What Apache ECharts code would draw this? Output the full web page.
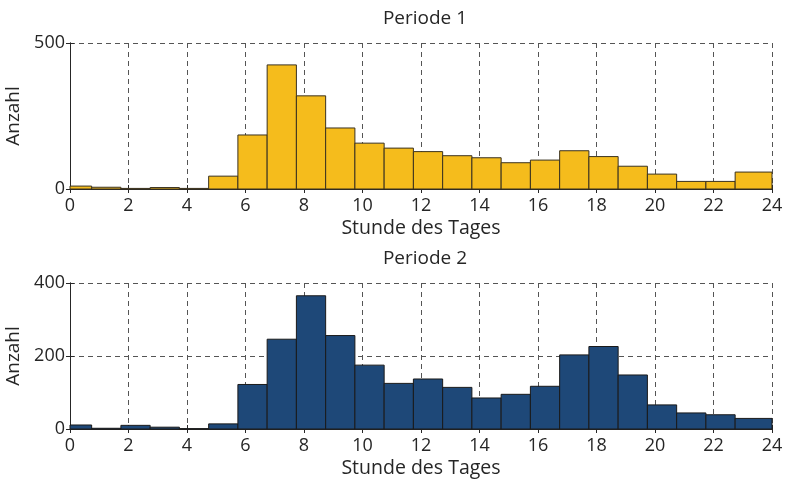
<!DOCTYPE html>
<html>
<head>
<meta charset="utf-8">
<script src="https://cdn.jsdelivr.net/npm/echarts@6/dist/echarts.min.js"></script>
<style>
  html, body { margin: 0; padding: 0; background: #fff; }
  #chart { width: 789px; height: 481px; }
</style>
</head>
<body>
<div id="chart"></div>
<script>
// Hourly histogram bins (hours of the day); first and last bins are cut by the axis range
const binEdges = [0, 0.74, 1.74, 2.74, 3.74, 4.74, 5.74, 6.74, 7.74, 8.74, 9.74, 10.74, 11.74,
                  12.74, 13.74, 14.74, 15.74, 16.74, 17.74, 18.74, 19.74, 20.74, 21.74, 22.74, 24];

// Counts per bin
const countsPeriod1 = [10, 6, 2, 5, 2, 44, 185, 425, 319, 209, 157, 140, 128, 114, 107, 90, 99, 131, 111, 78, 51, 26, 26, 58];
const countsPeriod2 = [11, 2, 10, 5, 1, 14, 122, 246, 365, 256, 175, 125, 137, 114, 85, 95, 117, 203, 226, 148, 66, 44, 39, 29];

const xTicks = [0, 24, 2];
const titles = ['Periode 1', 'Periode 2'];
const xName = 'Stunde des Tages';
const yName = 'Anzahl';

const FONT = '"Open Sans", "Noto Sans", sans-serif';
const TXT = '#262626';

function binData(counts) {
  return counts.map((c, i) => [binEdges[i], binEdges[i + 1], c]);
}

function renderBin(params, api) {
  const p0 = api.coord([api.value(0), api.value(2)]);
  const p1 = api.coord([api.value(1), 0]);
  return {
    type: 'rect',
    shape: { x: p0[0], y: p0[1], width: p1[0] - p0[0], height: p1[1] - p0[1] },
    style: api.style()
  };
}

const grids = [
  { left: 70, right: 17, top: 43, height: 146, containLabel: false, outerBoundsMode: 'none' },
  { left: 70, right: 17, top: 283, height: 146, containLabel: false, outerBoundsMode: 'none' }
];

function xAxisFor(gi) {
  return {
    type: 'value', gridIndex: gi, min: xTicks[0], max: xTicks[1], interval: xTicks[2],
    name: xName, nameLocation: 'middle', nameGap: 29,
    nameTextStyle: { fontFamily: FONT, fontSize: 19.5, color: TXT },
    axisLine: { show: true, lineStyle: { color: TXT, width: 1 } },
    axisTick: { show: true, inside: true, length: 4, lineStyle: { color: TXT } },
    axisLabel: { fontFamily: FONT, fontSize: 18, color: TXT, margin: 8 },
    splitLine: { show: true, lineStyle: { color: '#555', type: [5, 4], width: 1 } }
  };
}
function xTopFor(gi) {
  return {
    type: 'value', gridIndex: gi, position: 'top', min: xTicks[0], max: xTicks[1], interval: xTicks[2],
    axisLine: { show: gi === 1, lineStyle: { color: TXT, width: 1 } },
    axisTick: { show: true, inside: true, length: 4, lineStyle: { color: TXT } },
    axisLabel: { show: false }, splitLine: { show: false }
  };
}
function yAxisFor(gi, max, interval) {
  return {
    type: 'value', gridIndex: gi, min: 0, max: max, interval: interval,
    name: yName, nameLocation: 'middle', nameGap: 41,
    nameTextStyle: { fontFamily: FONT, fontSize: 19, color: TXT },
    axisLine: { show: true, lineStyle: { color: TXT, width: 1 } },
    axisTick: { show: true, inside: true, length: 4, lineStyle: { color: TXT } },
    axisLabel: { fontFamily: FONT, fontSize: 18, color: TXT, margin: 5 },
    splitLine: { show: true, lineStyle: { color: '#555', type: [5, 4], width: 1 } }
  };
}
function yRightFor(gi, max, interval) {
  return {
    type: 'value', gridIndex: gi, position: 'right', min: 0, max: max, interval: interval,
    axisLine: { show: true, lineStyle: { color: TXT, width: 1 } },
    axisTick: { show: true, inside: true, length: 4, lineStyle: { color: TXT } },
    axisLabel: { show: false }, splitLine: { show: false }
  };
}

const chart = echarts.init(document.getElementById('chart'), null, { renderer: 'canvas' });
chart.setOption({
  animation: false,
  backgroundColor: '#fff',
  title: [
    { text: titles[0], left: 420, top: 4, textAlign: 'center',
      textStyle: { fontFamily: FONT, fontSize: 19, fontWeight: 'normal', color: TXT } },
    { text: titles[1], left: 420, top: 244, textAlign: 'center',
      textStyle: { fontFamily: FONT, fontSize: 19, fontWeight: 'normal', color: TXT } }
  ],
  grid: grids,
  xAxis: [xAxisFor(0), xAxisFor(1), xTopFor(0), xTopFor(1)],
  yAxis: [yAxisFor(0, 500, 500), yAxisFor(1, 400, 200), yRightFor(0, 500, 500), yRightFor(1, 400, 200)],
  series: [
    {
      type: 'custom', xAxisIndex: 0, yAxisIndex: 0,
      renderItem: renderBin, data: binData(countsPeriod1),
      encode: { x: [0, 1], y: 2 },
      itemStyle: { color: '#F5BC1C', borderColor: '#3a3220', borderWidth: 1 }
    },
    {
      type: 'custom', xAxisIndex: 1, yAxisIndex: 1,
      renderItem: renderBin, data: binData(countsPeriod2),
      encode: { x: [0, 1], y: 2 },
      itemStyle: { color: '#1E4878', borderColor: '#1a1a1a', borderWidth: 1 }
    }
  ]
});
</script>
</body>
</html>
